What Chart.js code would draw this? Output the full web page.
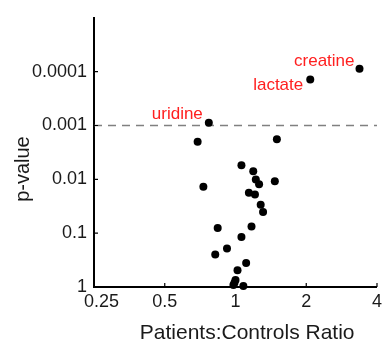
<!DOCTYPE html>
<html>
<head>
<meta charset="utf-8">
<script src="https://cdn.jsdelivr.net/npm/chart.js@4/dist/chart.umd.min.js"></script>
<style>
  html, body { margin: 0; padding: 0; background: #fff; }
</style>
</head>
<body>
<canvas id="myChart" width="386" height="342"></canvas>
<script>
//Data
const ratio = [3.37, 2.08, 0.77, 0.69, 1.5, 1.06, 1.19, 1.22, 1.26, 1.47, 0.73, 1.14, 1.21,
  1.28, 1.31, 0.84, 1.17, 1.06, 0.92, 0.82, 1.11, 1.02, 1.0, 0.99, 0.98, 1.08];
const pValue = [0.000088, 0.00014, 0.00089, 0.002, 0.0018, 0.0055, 0.0071, 0.0101, 0.0124,
  0.0109, 0.0138, 0.0178, 0.0191, 0.0296, 0.0403, 0.08, 0.075, 0.118, 0.192, 0.248, 0.358,
  0.49, 0.74, 0.83, 0.92, 0.96];
const pointNames = ["creatine", "lactate", "uridine"];
const cutoff = 0.001;

const xTicks = [0.25, 0.5, 1, 2, 4];
const xTickLabels = ["0.25", "0.5", "1", "2", "4"];
const yTicks = [0.0001, 0.001, 0.01, 0.1, 1];
const yTickLabels = ["0.0001", "0.001", "0.01", "0.1", "1"];

const font = "'Liberation Sans', Arial, sans-serif";
const textColor = "#1a1a1a";

//Inward tick marks
const innerTicks = {
  id: "innerTicks",
  afterDraw(chart) {
    const c = chart.ctx;
    const xs = chart.scales.x;
    const ys = chart.scales.y;
    const area = chart.chartArea;
    c.save();
    c.strokeStyle = "#000";
    c.lineWidth = 1.2;
    c.beginPath();
    xTicks.forEach((v) => {
      const px = xs.getPixelForValue(v);
      c.moveTo(px, area.bottom);
      c.lineTo(px, area.bottom - 4);
    });
    yTicks.forEach((v) => {
      const py = ys.getPixelForValue(v);
      c.moveTo(area.left, py);
      c.lineTo(area.left + 4, py);
    });
    c.stroke();
    c.restore();
  },
};

//Red names next to points
const labelOffsets = {
  creatine: { dx: -5, dy: -3 },
  lactate: { dx: -7, dy: 10 },
  uridine: { dx: -6, dy: -4 },
};
const pointLabels = {
  id: "pointLabels",
  afterDatasetsDraw(chart) {
    const c = chart.ctx;
    const meta = chart.getDatasetMeta(0);
    c.save();
    c.font = "17px " + font;
    c.fillStyle = "#ff2020";
    c.textAlign = "right";
    c.textBaseline = "alphabetic";
    pointNames.forEach((name, i) => {
      const pt = meta.data[i];
      const off = labelOffsets[name];
      c.fillText(name, pt.x + off.dx, pt.y + off.dy);
    });
    c.restore();
  },
};

//Rendering Chart
const ctx = document.getElementById("myChart").getContext("2d");

const config = {
  type: "scatter",
  data: {
    datasets: [
      {
        label: "metabolites",
        data: ratio.map((r, i) => ({ x: r, y: pValue[i] })),
        backgroundColor: "#000",
        borderWidth: 0,
        pointRadius: 4,
        pointHoverRadius: 4,
        clip: false,
      },
      {
        type: "line",
        label: "cutoff",
        data: [
          { x: xTicks[0], y: cutoff },
          { x: xTicks[xTicks.length - 1], y: cutoff },
        ],
        borderColor: "#808080",
        borderWidth: 1.5,
        borderDash: [8, 6],
        pointRadius: 0,
        fill: false,
      },
    ],
  },
  options: {
    responsive: false,
    animation: false,
    layout: { padding: { top: 14, right: 5, left: 0, bottom: 0 } },
    plugins: {
      legend: { display: false },
      tooltip: { enabled: false },
    },
    scales: {
      x: {
        type: "logarithmic",
        min: xTicks[0],
        max: xTicks[xTicks.length - 1],
        afterBuildTicks: (scale) => {
          scale.ticks = xTicks.map((v) => ({ value: v }));
        },
        afterFit: (scale) => {
          scale.height = 55;
        },
        grid: { display: false, drawTicks: false },
        border: { display: true, color: "#000", width: 2 },
        ticks: {
          autoSkip: false,
          maxRotation: 0,
          padding: 4,
          color: textColor,
          font: { family: font, size: 18 },
          // first label sits a little right of its tick, as in the original
          callback: (v) => (v === xTicks[0] ? "   " : "") + xTickLabels[xTicks.indexOf(v)],
        },
        title: {
          display: true,
          text: "    Patients:Controls Ratio",
          color: textColor,
          font: { family: font, size: 21 },
          padding: { top: 0, bottom: -4 },
        },
      },
      y: {
        type: "logarithmic",
        reverse: true,
        min: 0.00001,
        max: 1,
        afterBuildTicks: (scale) => {
          scale.ticks = yTicks.map((v) => ({ value: v }));
        },
        afterFit: (scale) => {
          scale.width = 94;
        },
        grid: { display: false, drawTicks: false },
        border: { display: true, color: "#000", width: 2 },
        ticks: {
          autoSkip: false,
          padding: 7,
          color: textColor,
          font: { family: font, size: 18 },
          callback: (v) => yTickLabels[yTicks.indexOf(v)],
        },
        title: {
          display: true,
          text: "p-value      ",
          color: textColor,
          font: { family: font, size: 20 },
          padding: { top: 11, bottom: 0 },
        },
      },
    },
  },
  plugins: [innerTicks, pointLabels],
};

const myChart = new Chart(ctx, config);
</script>
</body>
</html>
